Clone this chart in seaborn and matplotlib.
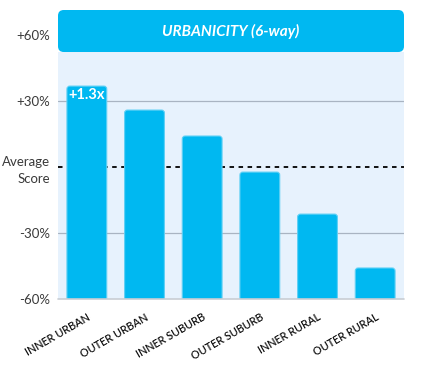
import seaborn as sns
import matplotlib.pyplot as plt
import pandas as pd
import numpy as np
from matplotlib.patches import FancyBboxPatch

# data (percent vs. average score)
categories = ['INNER URBAN', 'OUTER URBAN', 'INNER SUBURB', 'OUTER SUBURB', 'INNER RURAL', 'OUTER RURAL']
scores = [36.8, 25.9, 14.1, -2.3, -21.4, -45.9]
tick_values = [60, 30, 0, -30, -60]
tick_labels = ['+60%', '+30%', 'Average\nScore', '-30%', '-60%']
title = 'URBANICITY (6-way)'
top_note = '+1.3x'

base = -60  # bars grow up from the -60% line
df = pd.DataFrame({'cat': categories, 'h': np.array(scores) - base})

sns.set_style('white')
plt.rcParams['font.family'] = ['Lato', 'DejaVu Sans']

blue = '#00B8F1'
fig = plt.figure(figsize=(4.24, 3.65), dpi=100)
ax = fig.add_axes([58 / 424, 1 - 299 / 365, 346 / 424, 289 / 365])

sns.barplot(data=df, x='cat', y='h', color=blue, width=0.69, ax=ax, zorder=3, saturation=1)

# swap bars for rounded ones
aspect = 1.36 / 0.052
for p in list(ax.patches):
    x, y, w, h = p.get_x(), p.get_y(), p.get_width(), p.get_height()
    p.remove()
    ax.add_patch(FancyBboxPatch((x, y - 3), w, h + 3,
                                boxstyle='round,pad=0,rounding_size=0.05',
                                mutation_aspect=aspect, fc=blue, ec='#5FD0F5',
                                lw=0.8, zorder=3, clip_on=True))

ax.axhspan(0, 52.3 - base, color='#E7F2FD', zorder=0, lw=0)
for v in [30, -30]:
    ax.axhline(v - base, color='#A9B4C2', lw=0.9, zorder=1)
ax.axhline(0 - base, color='black', lw=1.3, ls=(0, (2.5, 2.5)), zorder=2)
ax.axhline(0, color='#C8CDD3', lw=1.2, zorder=4, clip_on=False)

# header box
ax.add_patch(FancyBboxPatch((-0.5, 52.3 - base), 6, 71.4 - 52.3,
                            boxstyle='round,pad=0,rounding_size=0.1',
                            mutation_aspect=aspect, fc=blue, ec='none', zorder=5))
ax.text(2.5, (52.3 + 71.4) / 2 - base, title, ha='center', va='center', color='white',
        fontsize=11, fontweight='bold', fontstyle='italic', zorder=6)

ax.text(0, scores[0] - base - 1.0, top_note, ha='center', va='top', color='white',
        fontsize=10.5, fontweight='bold', zorder=6)

ax.set_xlim(-0.5, 5.5)
ax.set_ylim(0, 71.4 - base)
ax.set_yticks([v - base for v in tick_values])
ax.set_yticklabels(tick_labels, fontsize=9.5, color='#3a3a3a', linespacing=1.5)
ax.set_xticks(range(len(categories)))
ax.set_xticklabels(categories, rotation=30, ha='right', rotation_mode='anchor',
                   fontsize=7.8, color='#111111', fontweight='semibold')
ax.tick_params(axis='both', length=0, pad=6)
ax.tick_params(axis='x', pad=9)
ax.set_xlabel('')
ax.set_ylabel('')
for s in ax.spines.values():
    s.set_visible(False)

fig.savefig('out.png', dpi=100)
